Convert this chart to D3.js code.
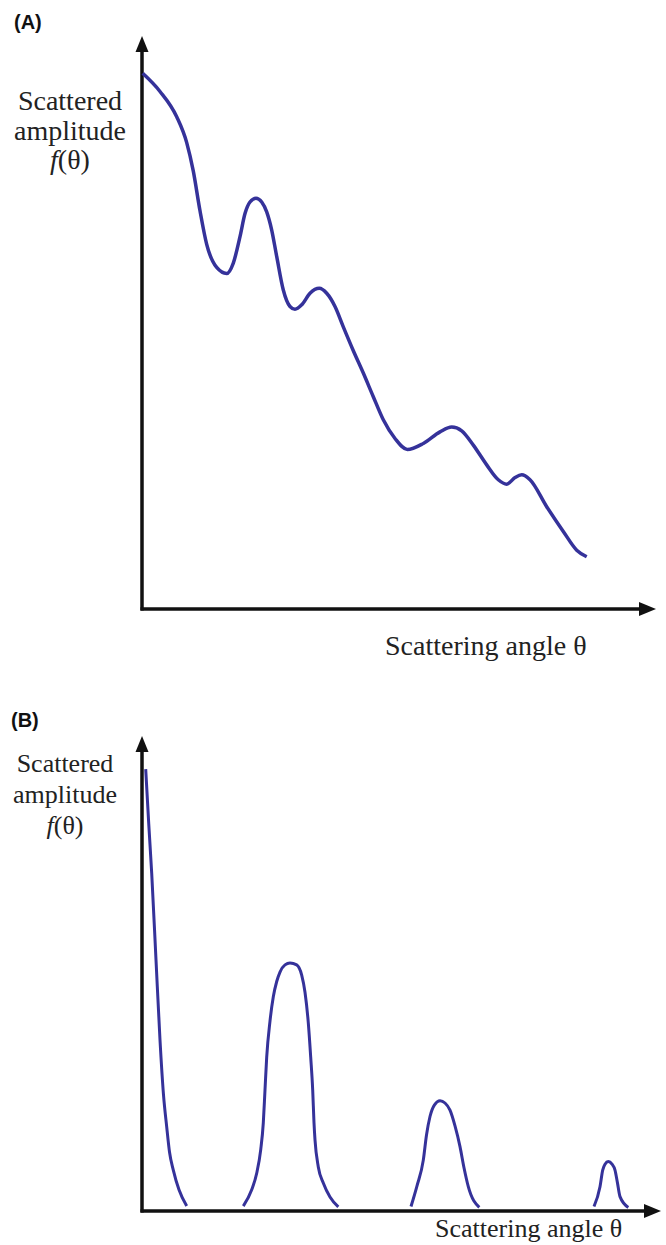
<!DOCTYPE html>
<html>
<head>
<meta charset="utf-8">
<script src="https://cdn.jsdelivr.net/npm/d3@7"></script>
<style>
  html, body { margin: 0; padding: 0; background: #fff; }
  svg { display: block; }
</style>
</head>
<body>
<svg id="chart" width="666" height="1245"></svg>
<script>
// ---- Data (arbitrary units: angle 0..100, amplitude 0..100) ----
const panelLabels = ["(A)", "(B)"];
const yLabelLines = ["Scattered", "amplitude"];
const xLabel = "Scattering angle θ";

// Panel A: single smooth decaying curve with weak oscillations
const curveA_angle = [0.14, 3.6, 6.94, 8.94, 10.26, 11.6, 12.94, 14.94, 16.94, 18.26, 19.6, 20.6, 21.6, 22.8, 23.94, 24.94, 25.94, 26.94, 28.26, 29.6, 30.6, 31.94, 33.6, 35.46, 36.94, 38.6, 40.26, 42.2, 44.26, 46.26, 48.26, 50.6, 53.06, 56.26, 59.6, 61.94, 63.94, 66.26, 68.94, 71.26, 72.94, 74.6, 75.94, 77.6, 80.94, 84.26, 86.94, 88.94];
const curveA_amp   = [97.4, 94.1, 89.5, 84.8, 79.6, 72.4, 66.3, 62.1, 61.0, 62.9, 67.7, 71.9, 74.0, 74.7, 74.0, 72.2, 68.9, 64.1, 58.0, 55.0, 54.5, 55.3, 57.4, 58.3, 57.4, 55.0, 51.3, 47.1, 42.9, 38.6, 34.4, 31.0, 29.0, 30.1, 32.2, 33.1, 32.4, 29.8, 26.2, 23.5, 22.7, 23.9, 24.4, 23.5, 18.6, 14.1, 10.7, 9.5];

// Panel B: separated diffraction peaks
const peakB1_angle = [0.74, 1.34, 1.94, 2.8, 3.6, 4.3, 4.94, 5.5, 6.26, 7.4, 8.94];
const peakB1_amp   = [98.2, 86.2, 75.1, 55.8, 38.0, 25.8, 18.7, 13.1, 9.1, 4.7, 1.1];
const peakB2_angle = [20.26, 21.94, 22.94, 23.74, 24.26, 24.6, 24.94, 25.6, 26.26, 26.94, 27.6, 28.6, 29.6, 30.94, 31.94, 32.6, 33.26, 33.74, 34.14, 34.4, 34.6, 35.26, 36.26, 37.6, 39.26];
const peakB2_amp   = [1.1, 4.7, 8.4, 13.6, 19.6, 26.9, 34.2, 42.2, 47.6, 51.0, 53.1, 54.7, 55.1, 54.7, 52.4, 48.6, 41.8, 34.2, 26.9, 19.6, 15.8, 9.8, 6.2, 3.1, 0.9];
const peakB3_angle = [53.8, 55.0, 56.26, 56.9, 57.6, 58.5, 59.6, 60.6, 61.6, 62.6, 63.6, 64.4, 65.26, 67.46];
const peakB3_amp   = [1.0, 5.6, 11.3, 16.9, 21.0, 23.6, 24.5, 24.0, 22.4, 18.9, 14.3, 9.6, 5.4, 0.8];
const peakB4_angle = [90.4, 91.6, 92.14, 92.6, 93.26, 94.0, 94.6, 95.1, 95.6, 97.26];
const peakB4_amp   = [1.0, 5.4, 9.1, 10.4, 11.0, 10.4, 9.1, 6.2, 3.2, 0.8];

const zip = (xs, ys) => xs.map((x, i) => ({x, y: ys[i]}));

const svg = d3.select("#chart");
const lineColor = "#35329a";
const axisColor = "#111";

function drawPanel(cfg) {
  const g = svg.append("g");
  const x = d3.scaleLinear().domain([0, 100]).range([cfg.x0, cfg.x0 + 500]);
  const y = d3.scaleLinear().domain([0, 100]).range([cfg.yBase, cfg.yTop]);

  // Axes with arrowheads
  const ax = cfg.x0, ay = cfg.yBase;
  g.append("line").attr("x1", ax).attr("y1", ay + 1.5).attr("x2", ax).attr("y2", cfg.yArrow + 14)
    .attr("stroke", axisColor).attr("stroke-width", 3.5);
  g.append("line").attr("x1", ax - 1.5).attr("y1", ay).attr("x2", cfg.xArrow - 14).attr("y2", ay)
    .attr("stroke", axisColor).attr("stroke-width", 3.5);
  g.append("path")
    .attr("d", `M${ax},${cfg.yArrow} L${ax - 6.5},${cfg.yArrow + 16} L${ax + 6.5},${cfg.yArrow + 16} Z`)
    .attr("fill", axisColor);
  g.append("path")
    .attr("d", `M${cfg.xArrow},${ay} L${cfg.xArrow - 17},${ay - 7} L${cfg.xArrow - 17},${ay + 7} Z`)
    .attr("fill", axisColor);

  // Curves
  const line = d3.line().x(d => x(d.x)).y(d => y(d.y)).curve(d3.curveMonotoneX);
  cfg.series.forEach(s => {
    g.append("path").datum(s).attr("d", line)
      .attr("fill", "none").attr("stroke", lineColor)
      .attr("stroke-width", cfg.strokeW).attr("stroke-linejoin", "round");
  });

  // Panel label
  g.append("text").attr("x", cfg.labelX).attr("y", cfg.labelY)
    .attr("font-family", "Liberation Sans, Arial, sans-serif").attr("font-weight", "bold")
    .attr("font-size", 20).attr("fill", "#111").text(cfg.panelLabel);

  // Y label
  const serif = "'Liberation Serif', 'Times New Roman', serif";
  yLabelLines.forEach((t, i) => {
    g.append("text").attr("x", cfg.yLabX).attr("y", cfg.yLabY + i * cfg.lineGap)
      .attr("text-anchor", "middle").attr("font-family", serif)
      .attr("font-size", cfg.fs).attr("fill", "#222").text(t);
  });
  const f = g.append("text").attr("x", cfg.yLabX).attr("y", cfg.yLabY + 2 * cfg.lineGap)
    .attr("text-anchor", "middle").attr("font-family", serif)
    .attr("font-size", cfg.fs).attr("fill", "#222");
  f.append("tspan").attr("font-style", "italic").text("f");
  f.append("tspan").text("(θ)");

  // X label
  g.append("text").attr("x", cfg.xLabX).attr("y", cfg.xLabY)
    .attr("font-family", serif).attr("font-size", cfg.xfs).attr("fill", "#222").text(xLabel);
}

drawPanel({
  x0: 142, yBase: 609, yTop: 59, yArrow: 36, xArrow: 656,
  series: [zip(curveA_angle, curveA_amp)], strokeW: 3.5,
  panelLabel: panelLabels[0], labelX: 14, labelY: 29,
  yLabX: 70, yLabY: 110, lineGap: 29.5, fs: 28,
  xLabX: 385, xLabY: 655, xfs: 28
});

drawPanel({
  x0: 142, yBase: 1211, yTop: 761, yArrow: 736, xArrow: 661,
  series: [zip(peakB1_angle, peakB1_amp), zip(peakB2_angle, peakB2_amp),
           zip(peakB3_angle, peakB3_amp), zip(peakB4_angle, peakB4_amp)],
  strokeW: 3,
  panelLabel: panelLabels[1], labelX: 11, labelY: 727,
  yLabX: 65, yLabY: 772, lineGap: 31, fs: 26,
  xLabX: 435, xLabY: 1237, xfs: 26
});
</script>
</body>
</html>
